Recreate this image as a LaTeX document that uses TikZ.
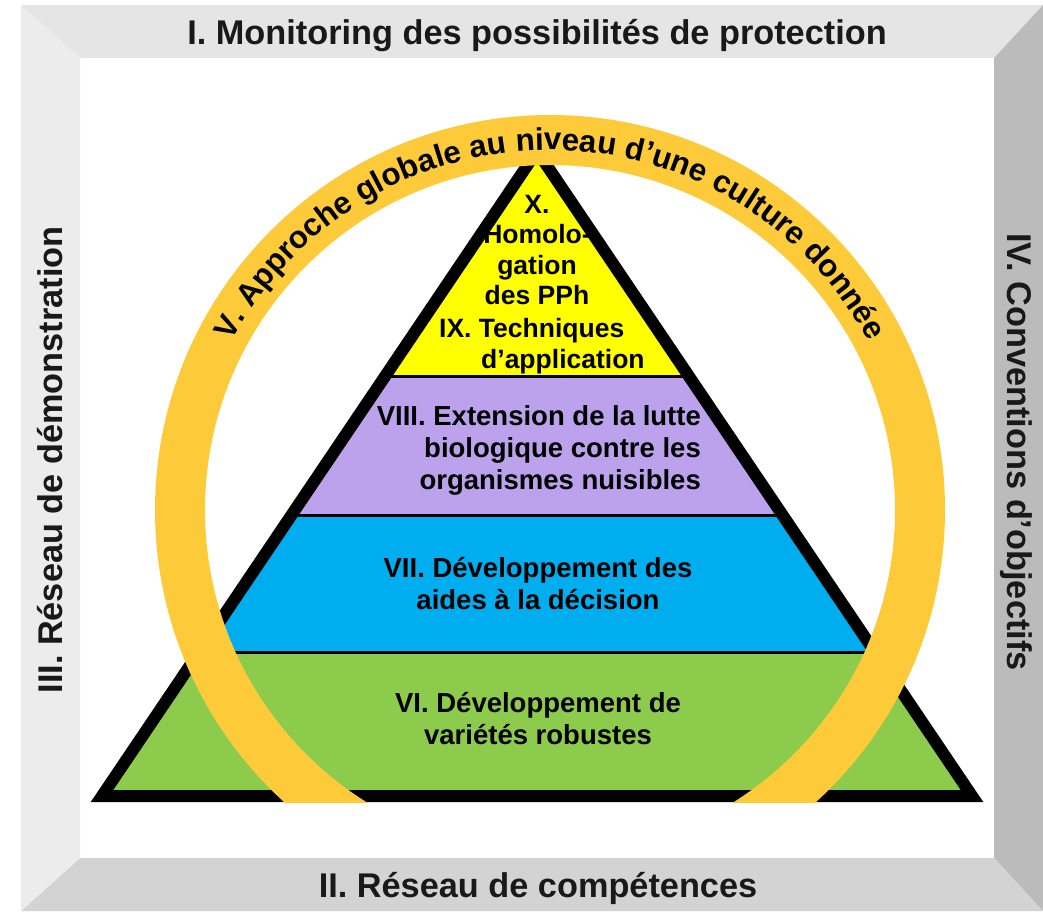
\documentclass[tikz,border=0pt]{standalone}
\usepackage{fontspec}
\setmainfont{Liberation Sans}
\usetikzlibrary{decorations.text}

\definecolor{frametop}{HTML}{E5E5E5}
\definecolor{frameleft}{HTML}{ECECEC}
\definecolor{framebottom}{HTML}{D3D3D3}
\definecolor{frameright}{HTML}{BBBBBB}
\definecolor{bandyellow}{HTML}{FFFF00}
\definecolor{bandpurple}{HTML}{BCA2EC}
\definecolor{bandblue}{HTML}{00AEEF}
\definecolor{bandgreen}{HTML}{8CCB4B}
\definecolor{ringcol}{HTML}{FDCA3A}

\newcommand\ringfont{\bfseries\fontsize{31.3}{31.3}\selectfont}

\tikzset{
  bandtext/.style={font=\bfseries\fontsize{27.5}{32}\selectfont, inner sep=0pt, text=black},
  toptext/.style={font=\bfseries\fontsize{26.5}{30.5}\selectfont, inner sep=0pt, text=black},
  framelabel/.style={font=\bfseries\fontsize{34.3}{40}\selectfont, inner sep=0pt, text=black!90, anchor=base},
  bandline/.style={line width=3pt},
}

\begin{document}
\begin{tikzpicture}[x=1pt,y=1pt]
\useasboundingbox (0,0) rectangle (1043,911);

% bevelled frame
\fill[frametop] (21,906) -- (1043,906) -- (994,853) -- (80,853) -- cycle;
\fill[frameright] (1043,906) -- (1043,0) -- (994,53) -- (994,853) -- cycle;
\fill[framebottom] (21,0) -- (1043,0) -- (994,53) -- (80,53) -- cycle;
\fill[frameleft] (21,906) -- (80,853) -- (80,53) -- (21,0) -- cycle;

\node[framelabel] (lblI) at (537,866) {I. Monitoring des possibilités de protection};
\node[framelabel] (lblII) at (538,14) {II. Réseau de compétences};
\node[framelabel, rotate=90] (lblIII) at (62,451) {III. Réseau de démonstration};
\node[framelabel, rotate=-90] (lblIV) at (1007,459) {IV. Conventions d’objectifs};

% pyramid
\begin{scope}
\clip (102,115) -- (537,760) -- (972,115) -- cycle;
\fill[bandgreen] (0,0) rectangle (1043,259);
\fill[bandblue] (0,259) rectangle (1043,396);
\fill[bandpurple] (0,396) rectangle (1043,534);
\fill[bandyellow] (0,534) rectangle (1043,800);
\draw[bandline] (0,259) -- (1043,259);
\draw[bandline] (0,396) -- (1043,396);
\draw[bandline] (0,534) -- (1043,534);
\end{scope}
\draw[line width=12pt] (102,115) -- (537,760) -- (972,115) -- cycle;

\node[toptext, align=center] (levX) at (537,661) {X.\\Homolo-\\gation\\des PPh};
\node[toptext, align=left, anchor=west] (levIX) at (439,565) {IX. Techniques\\\hspace*{42pt}d’application};
\node[bandtext, align=right, anchor=east] (levVIII) at (701,461) {VIII. Extension de la lutte\\biologique contre les\\organismes nuisibles};
\node[bandtext, align=center] (levVII) at (538,327) {VII. Développement des\\aides à la décision};
\node[bandtext, align=center] (levVI) at (538,192) {VI. Développement de\\variétés robustes};

% ring
\begin{scope}
\clip (0,109) rectangle (1043,911);
\draw[ringcol, line width=50pt] (550,401) circle[radius=370];
\end{scope}
\path[decorate, decoration={text along path, text align=center,
  text={|\ringfont|V. Approche globale au niveau d’une culture donnée}}]
  (190,401) arc[start angle=180, end angle=0, radius=360];
\end{tikzpicture}
\end{document}
